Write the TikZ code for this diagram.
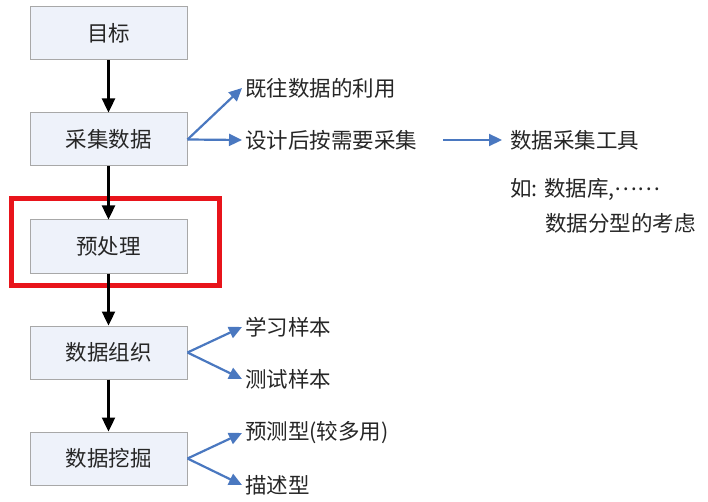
\documentclass[tikz,border=0pt]{standalone}
\usepackage{fontspec}
\setmainfont{Noto Sans CJK SC}
\usetikzlibrary{arrows.meta}
\definecolor{boxfill}{HTML}{EEF2FA}
\definecolor{boxdraw}{HTML}{A8A8A8}
\definecolor{arrblue}{HTML}{4A78C0}
\definecolor{redbox}{HTML}{E8141B}
\begin{document}
\begin{tikzpicture}[x=1pt,y=-1pt,
  stepbox/.style={draw=boxdraw,fill=boxfill,line width=1pt,minimum width=157pt,minimum height=53pt,inner sep=0pt,font=\fontsize{21.5}{24}\selectfont,text=black!85},
  lbl/.style={anchor=west,inner sep=0pt,font=\fontsize{21.5}{24}\selectfont,text=black!85},
  blk/.style={-{Triangle[length=14pt,width=13pt]},line width=2.4pt,black},
  blu/.style={-{Triangle[length=13pt,width=12pt]},line width=2.2pt,arrblue}]
\useasboundingbox (0,0) rectangle (708,502);
\fill[white] (0,0) rectangle (708,502);
\node[stepbox] (goal) at (108.5,33.5) {目标};
\node[stepbox] (collect) at (108.5,139.5) {采集数据};
\node[stepbox] (pre) at (108.5,246.5) {预处理};
\node[stepbox] (org) at (108.5,352.5) {数据组织};
\node[stepbox] (mine) at (108.5,458.5) {数据挖掘};
\draw[redbox,line width=5pt] (11.5,198.5) rectangle (219.5,285.5);
\draw[blk] (goal) -- (collect);
\draw[blk] (collect) -- (pre);
\draw[blk] (pre) -- (org);
\draw[blk] (org) -- (mine);
\node[lbl] (past) at (245,88) {既往数据的利用};
\node[lbl] (design) at (245,140) {设计后按需要采集};
\node[lbl] (tool) at (510,140) {数据采集工具};
\node[lbl] (eg) at (510,190) {如: 数据库,\raisebox{0.3em}{……}};
\node[lbl] (type) at (545,223) {数据分型的考虑};
\node[lbl] (learn) at (245,327) {学习样本};
\node[lbl] (test) at (245,379) {测试样本};
\node[lbl] (pred) at (245,433) {预测型(较多用)};
\node[lbl] (desc) at (245,485) {描述型};
\draw[blu] (collect.east) -- ([xshift=-3pt]past.west);
\draw[blu] (collect.east) -- ([xshift=-3pt]design.west);
\draw[blu] ([xshift=26pt]design.east) -- ([xshift=-8pt]tool.west);
\draw[blu] (org.east) -- ([xshift=-3pt]learn.west);
\draw[blu] (org.east) -- ([xshift=-3pt]test.west);
\draw[blu] (mine.east) -- ([xshift=-3pt]pred.west);
\draw[blu] (mine.east) -- ([xshift=-3pt]desc.west);
\end{tikzpicture}
\end{document}
